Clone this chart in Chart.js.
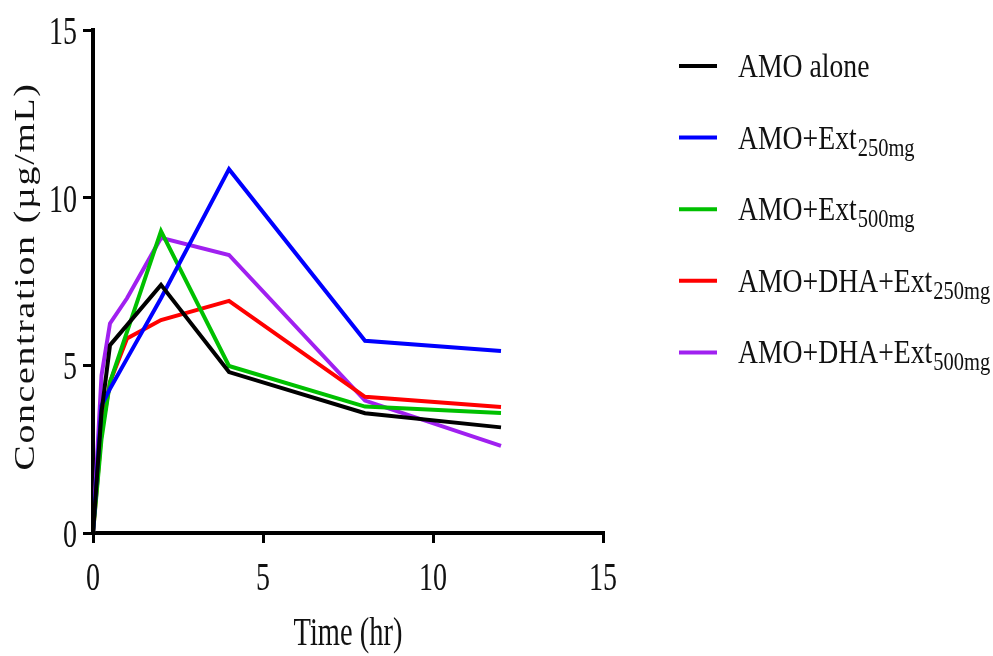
<!DOCTYPE html>
<html>
<head>
<meta charset="utf-8">
<script src="https://cdn.jsdelivr.net/npm/chart.js@4"></script>
<style>
  html, body { margin: 0; padding: 0; background: #fff; }
  #wrap { width: 993px; height: 656px; }
</style>
</head>
<body>
<div id="wrap"><canvas id="c" width="993" height="656"></canvas></div>
<script>
// ---- data ----
const times      = [0, 0.25, 0.5, 1, 2, 4, 8, 12];
const amoAlone   = [0, 3.6, 5.6, 6.2, 7.4, 4.8, 3.57, 3.15];
const amoExt250  = [0, 3.8, 4.3, 5.2, 7.0, 10.85, 5.73, 5.43];
const amoExt500  = [0, 2.8, 4.5, 6.0, 9.0, 4.98, 3.77, 3.58];
const dhaExt250  = [0, 3.0, 4.5, 5.8, 6.35, 6.92, 4.06, 3.76];
const dhaExt500  = [0, 4.7, 6.25, 7.0, 8.8, 8.29, 3.95, 2.6];

const seriesMain = ["AMO alone", "AMO+Ext", "AMO+Ext", "AMO+DHA+Ext", "AMO+DHA+Ext"];
const seriesSub  = ["", "250mg", "500mg", "250mg", "500mg"];
const seriesColors = ["#000000", "#0000FF", "#00C000", "#FF0000", "#A020F0"];

const xTicks = [0, 5, 10, 15];
const yTicks = [0, 5, 10, 15];
const xTitle = "Time (hr)";
const yTitle = "Concentration (\u00B5g/mL)";

const allSeries = [amoAlone, amoExt250, amoExt500, dhaExt250, dhaExt500];

const datasets = allSeries.map((vals, i) => ({
  label: seriesMain[i] + seriesSub[i],
  data: times.map((t, k) => ({ x: t, y: vals[k] })),
  borderColor: seriesColors[i],
  backgroundColor: seriesColors[i],
  borderWidth: 4,
  pointRadius: 0,
  tension: 0,
  fill: false,
  borderJoinStyle: 'miter'
}));

const FONT = '"Liberation Serif", "Times New Roman", serif';
const TXT = '#111';

function drawText(ctx, text, x, y, size, sx, sy, align, rotate, spacing) {
  ctx.save();
  ctx.translate(x, y);
  if (rotate) ctx.rotate(-Math.PI / 2);
  ctx.scale(sx, sy);
  ctx.font = size + 'px ' + FONT;
  if (spacing) ctx.letterSpacing = spacing + 'px';
  ctx.textAlign = align;
  ctx.textBaseline = 'alphabetic';
  ctx.fillStyle = TXT;
  ctx.fillText(text, 0, 0);
  ctx.restore();
}

const textPlugin = {
  id: 'textPlugin',
  afterDraw(chart) {
    const ctx = chart.ctx;
    const xs = chart.scales.x, ys = chart.scales.y;
    // tick labels
    xTicks.forEach(v => {
      drawText(ctx, String(v), xs.getPixelForValue(v), 590, 28, 1, 1.4, 'center');
    });
    yTicks.forEach(v => {
      drawText(ctx, String(v), 77, ys.getPixelForValue(v) + 14, 28, 1, 1.4, 'right');
    });
    // axis titles
    const cx = (chart.chartArea.left + chart.chartArea.right) / 2;
    drawText(ctx, xTitle, cx, 645, 28.5, 1, 1.4, 'center');
    ctx.save();
    ctx.font = '29px ' + FONT;
    const w = ctx.measureText(yTitle).width;
    ctx.restore();
    const sxT = 1.3;
    const sp = Math.max(0, (388 / sxT - w) / yTitle.length);
    const cy = (chart.chartArea.top + chart.chartArea.bottom) / 2 - 5;
    drawText(ctx, yTitle, 34, cy, 29, sxT, 1, 'center', true, sp);
    // legend
    const legY0 = 66, legStep = 71.6;
    chart.data.datasets.forEach((ds, i) => {
      const ly = legY0 + i * legStep;
      ctx.save();
      ctx.strokeStyle = ds.borderColor;
      ctx.lineWidth = 4;
      ctx.beginPath();
      ctx.moveTo(679, ly);
      ctx.lineTo(717, ly);
      ctx.stroke();
      ctx.restore();
      const base = ly + 11;
      drawText(ctx, seriesMain[i], 738, base, 27.7, 1, 1.19, 'left');
      if (seriesSub[i]) {
        ctx.save();
        ctx.font = '27.7px ' + FONT;
        const mw = ctx.measureText(seriesMain[i]).width;
        ctx.restore();
        drawText(ctx, seriesSub[i], 738 + mw + 1, base + 7, 20.5, 1, 1.19, 'left');
      }
    });
  }
};

new Chart(document.getElementById('c'), {
  type: 'line',
  data: { datasets },
  options: {
    responsive: false,
    animation: false,
    devicePixelRatio: 1,
    layout: { padding: { left: 0, right: 390, top: 30, bottom: 0 } },
    plugins: { legend: { display: false }, tooltip: { enabled: false } },
    scales: {
      x: {
        type: 'linear', min: 0, max: 15,
        afterBuildTicks: (s) => { s.ticks = xTicks.map(v => ({ value: v })); },
        afterFit: (s) => { s.height = 123; },
        ticks: { display: false },
        grid: { drawOnChartArea: false, drawTicks: true, tickLength: 10, color: '#000', lineWidth: 3 },
        border: { display: true, color: '#000', width: 4 }
      },
      y: {
        type: 'linear', min: 0, max: 15,
        afterBuildTicks: (s) => { s.ticks = yTicks.map(v => ({ value: v })); },
        afterFit: (s) => { s.width = 93; },
        ticks: { display: false },
        grid: { drawOnChartArea: false, drawTicks: true, tickLength: 10, color: '#000', lineWidth: 3 },
        border: { display: true, color: '#000', width: 4 }
      }
    }
  },
  plugins: [textPlugin]
});
</script>
</body>
</html>
